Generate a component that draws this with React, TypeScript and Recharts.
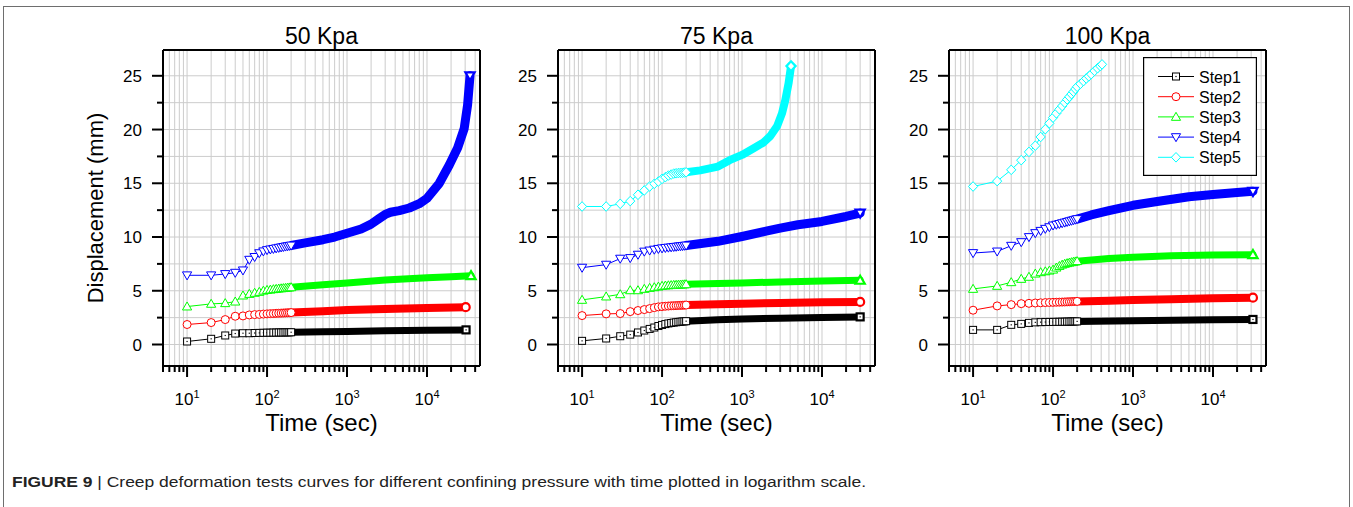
import React from 'react';
import { LineChart, Line, XAxis, YAxis, CartesianGrid, Legend, ReferenceLine } from 'recharts';

// ---------- axis ticks ----------
const X_TICKS = [5, 6, 7, 8, 9, 10, 20, 30, 40, 50, 60, 70, 80, 90, 100, 200, 300, 400, 500, 600, 700, 800, 900,
  1000, 2000, 3000, 4000, 5000, 6000, 7000, 8000, 9000, 10000, 20000, 30000, 40000];
const X_MAJOR = [10, 100, 1000, 10000];
const X_EXP = ['1', '2', '3', '4'];
const Y_TICKS = [0, 2.5, 5, 7.5, 10, 12.5, 15, 17.5, 20, 22.5, 25];
const Y_MAJOR = [0, 5, 10, 15, 20, 25];
const X_DOMAIN = [5, 46000];
const Y_DOMAIN = [-2, 27.4];

const STEP_NAMES = ['Step1', 'Step2', 'Step3', 'Step4', 'Step5'];
const COLORS = ['#000000', '#ff0000', '#00ff00', '#0000ff', '#00ffff'];
const SHAPES = ['square', 'circle', 'triUp', 'triDown', 'diamond'];
const BAND_W = [7, 8, 7, 9, 8];
const TITLES = ['50 Kpa', '75 Kpa', '100 Kpa'];

// ---------- data (time in sec, displacement in mm) ----------
const EARLY_T = [10, 20, 30, 40, 50, 60, 70, 80, 90, 100, 110, 120, 130, 140, 150, 160, 170, 180, 190, 200];
const EXT_T = [10, 20, 30, 40, 50, 60, 70, 80, 90, 100, 110, 120, 130, 140, 150, 160, 170, 180, 190, 200,
  220, 240, 260, 280, 300, 330, 360, 390, 410];

// 50 kPa
const P50_S1 = [0.28, 0.53, 0.84, 1.02, 1.05, 1.05, 1.07, 1.08, 1.09, 1.10, 1.10, 1.11, 1.11, 1.12, 1.12, 1.12, 1.13, 1.13, 1.13, 1.14];
const P50_S1_TAIL = [[200, 1.14], [500, 1.18], [1000, 1.22], [3000, 1.27], [10000, 1.32], [30800, 1.36]];
const P50_S2 = [1.86, 2.04, 2.32, 2.63, 2.66, 2.75, 2.78, 2.80, 2.83, 2.85, 2.87, 2.88, 2.90, 2.91, 2.92, 2.93, 2.94, 2.95, 2.96, 2.97];
const P50_S2_TAIL = [[200, 2.97], [500, 3.10], [1000, 3.20], [3000, 3.30], [10000, 3.40], [30500, 3.47]];
const P50_S3 = [3.53, 3.78, 3.84, 3.99, 4.55, 4.70, 4.80, 4.89, 5.00, 5.07, 5.10, 5.14, 5.17, 5.20, 5.22, 5.24, 5.26, 5.28, 5.30, 5.32];
const P50_S3_TAIL = [[200, 5.32], [500, 5.55], [1000, 5.73], [3000, 6.00], [10000, 6.20], [20000, 6.30], [35500, 6.40]];
const P50_S4 = [6.44, 6.44, 6.56, 6.68, 6.90, 7.89, 8.15, 8.50, 8.67, 8.79, 8.85, 8.90, 8.95, 9.00, 9.04, 9.08, 9.12, 9.15, 9.18, 9.21];
const P50_S4_TAIL = [[200, 9.21], [300, 9.45], [500, 9.75], [700, 10.0], [1000, 10.35], [1500, 10.75], [2000, 11.2],
  [2500, 11.7], [3000, 12.1], [3500, 12.3], [4500, 12.45], [6000, 12.7], [8000, 13.1], [10000, 13.6], [14250, 15.0],
  [19000, 16.7], [24200, 18.3], [29200, 20.1], [32200, 22.3], [34500, 25.0]];

// 75 kPa
const P75_S1 = [0.34, 0.56, 0.77, 0.92, 1.12, 1.30, 1.45, 1.58, 1.72, 1.82, 1.90, 1.96, 2.00, 2.04, 2.07, 2.10, 2.12, 2.14, 2.15, 2.17];
const P75_S1_TAIL = [[200, 2.17], [500, 2.30], [1000, 2.38], [3000, 2.45], [10000, 2.52], [30000, 2.57]];
const P75_S2 = [2.69, 2.85, 2.88, 3.06, 3.16, 3.25, 3.34, 3.43, 3.50, 3.53, 3.56, 3.58, 3.60, 3.61, 3.62, 3.63, 3.64, 3.65, 3.66, 3.67];
const P75_S2_TAIL = [[200, 3.67], [500, 3.75], [1000, 3.80], [3000, 3.86], [10000, 3.92], [30000, 3.96]];
const P75_S3 = [4.15, 4.46, 4.67, 5.04, 5.04, 5.17, 5.26, 5.32, 5.38, 5.45, 5.48, 5.50, 5.52, 5.54, 5.55, 5.56, 5.57, 5.58, 5.59, 5.60];
const P75_S3_TAIL = [[200, 5.60], [500, 5.68], [1000, 5.73], [3000, 5.82], [10000, 5.90], [30000, 5.97]];
const P75_S4 = [7.15, 7.43, 7.99, 8.05, 8.36, 8.65, 8.75, 8.83, 8.90, 8.95, 8.99, 9.02, 9.05, 9.08, 9.10, 9.13, 9.15, 9.17, 9.19, 9.21];
const P75_S4_TAIL = [[200, 9.21], [500, 9.60], [1000, 10.05], [2000, 10.55], [3000, 10.83], [5000, 11.14], [10000, 11.45],
  [20000, 11.91], [30000, 12.23]];
const P75_S5 = [12.84, 12.84, 13.09, 13.34, 13.93, 14.33, 14.70, 14.95, 15.16, 15.41, 15.57, 15.72, 15.81, 15.90, 15.93, 15.95, 15.97, 15.98, 16.00, 16.02];
const P75_S5_TAIL = [[200, 16.02], [300, 16.2], [500, 16.55], [700, 17.15], [1000, 17.64], [1400, 18.26], [1860, 18.8],
  [2260, 19.4], [2740, 20.3], [3160, 21.5], [3480, 22.75], [3820, 24.3], [4100, 25.9]];

// 100 kPa
const P100_S1 = [1.36, 1.36, 1.83, 1.92, 2.01, 2.06, 2.08, 2.09, 2.10, 2.10, 2.11, 2.11, 2.12, 2.12, 2.13, 2.13, 2.14, 2.14, 2.15, 2.15];
const P100_S1_TAIL = [[200, 2.15], [1000, 2.20], [10000, 2.30], [31600, 2.33]];
const P100_S2 = [3.19, 3.59, 3.71, 3.80, 3.83, 3.86, 3.88, 3.90, 3.91, 3.92, 3.93, 3.94, 3.95, 3.96, 3.97, 3.98, 3.99, 4.00, 4.00, 4.01];
const P100_S2_TAIL = [[200, 4.01], [500, 4.08], [1000, 4.15], [3000, 4.22], [10000, 4.30], [31600, 4.36]];
const P100_S3 = [5.17, 5.45, 5.79, 6.10, 6.29, 6.59, 6.72, 6.80, 6.87, 6.96, 7.15, 7.30, 7.42, 7.50, 7.56, 7.61, 7.65, 7.69, 7.72, 7.75];
const P100_S3_TAIL = [[200, 7.75], [500, 8.00], [1000, 8.12], [3000, 8.25], [10000, 8.33], [31600, 8.36]];
const P100_S4 = [8.51, 8.66, 9.19, 9.53, 10.00, 10.37, 10.58, 10.77, 10.92, 11.08, 11.15, 11.22, 11.29, 11.35, 11.41, 11.47, 11.52, 11.57, 11.62, 11.67];
const P100_S4_TAIL = [[200, 11.67], [300, 12.05], [500, 12.45], [1000, 12.95], [2000, 13.3], [5000, 13.75], [10000, 13.95],
  [20000, 14.15], [31600, 14.25]];
const P100_S5 = [14.70, 15.20, 16.25, 17.15, 17.92, 18.50, 19.31, 20.03, 20.58, 21.11, 21.51, 21.88, 22.19, 22.50, 22.80,
  23.05, 23.30, 23.52, 23.77, 23.98, 24.25, 24.50, 24.75, 24.95, 25.15, 25.45, 25.70, 25.90, 26.06];

// ---------- helpers ----------
type Pt = { t: number; v: number };
type Series = { early: Pt[]; tail: Pt[] | null };
const zip = (ts: number[], vs: number[]): Pt[] => vs.map((v, i) => ({ t: ts[i], v }));
const pairs = (arr: number[][]): Pt[] => arr.map(([t, v]) => ({ t, v }));

const PANELS: Series[][] = [
  [
    { early: zip(EARLY_T, P50_S1), tail: pairs(P50_S1_TAIL) },
    { early: zip(EARLY_T, P50_S2), tail: pairs(P50_S2_TAIL) },
    { early: zip(EARLY_T, P50_S3), tail: pairs(P50_S3_TAIL) },
    { early: zip(EARLY_T, P50_S4), tail: pairs(P50_S4_TAIL) },
  ],
  [
    { early: zip(EARLY_T, P75_S1), tail: pairs(P75_S1_TAIL) },
    { early: zip(EARLY_T, P75_S2), tail: pairs(P75_S2_TAIL) },
    { early: zip(EARLY_T, P75_S3), tail: pairs(P75_S3_TAIL) },
    { early: zip(EARLY_T, P75_S4), tail: pairs(P75_S4_TAIL) },
    { early: zip(EARLY_T, P75_S5), tail: pairs(P75_S5_TAIL) },
  ],
  [
    { early: zip(EARLY_T, P100_S1), tail: pairs(P100_S1_TAIL) },
    { early: zip(EARLY_T, P100_S2), tail: pairs(P100_S2_TAIL) },
    { early: zip(EARLY_T, P100_S3), tail: pairs(P100_S3_TAIL) },
    { early: zip(EARLY_T, P100_S4), tail: pairs(P100_S4_TAIL) },
    { early: zip(EXT_T, P100_S5), tail: null },
  ],
];

const FONT = '"Liberation Sans", Arial, Helvetica, sans-serif';

function Marker({ shape, cx, cy, color, sw = 1 }: { shape: string; cx?: number; cy?: number; color: string; sw?: number }) {
  if (cx == null || cy == null || isNaN(cx) || isNaN(cy)) return <g />;
  const common = { fill: '#ffffff', stroke: color, strokeWidth: sw };
  if (shape === 'square') {
    return (
      <g>
        <rect x={cx - 3.5} y={cy - 3.5} width={7} height={7} {...common} />
        <rect x={cx - 0.6} y={cy - 0.6} width={1.2} height={1.2} fill={color} />
      </g>
    );
  }
  if (shape === 'circle') return <circle cx={cx} cy={cy} r={4} {...common} />;
  let pts = '';
  if (shape === 'triUp') pts = `${cx},${cy - 4.6} ${cx + 4.6},${cy + 3.4} ${cx - 4.6},${cy + 3.4}`;
  else if (shape === 'triDown') pts = `${cx - 4.6},${cy - 3.4} ${cx + 4.6},${cy - 3.4} ${cx},${cy + 4.6}`;
  else pts = `${cx},${cy - 4.8} ${cx + 4.6},${cy} ${cx},${cy + 4.8} ${cx - 4.6},${cy}`;
  return <polygon points={pts} {...common} />;
}

const renderXTick = (p: any) => {
  const v = p.payload.value;
  const mi = X_MAJOR.indexOf(v);
  const major = mi >= 0;
  return (
    <g key={`xt${v}`}>
      <line x1={p.x} x2={p.x} y1={p.y} y2={p.y + (major ? 11 : 6)} stroke="#000" strokeWidth={2} />
      {major && (
        <text x={p.x} y={p.y + 38.5} textAnchor="middle" fontSize={17} fill="#000" fontFamily={FONT}>
          10<tspan dy={-7} fontSize={11}>{X_EXP[mi]}</tspan>
        </text>
      )}
    </g>
  );
};

const renderYTick = (p: any) => {
  const v = p.payload.value;
  const major = Y_MAJOR.indexOf(v) >= 0;
  return (
    <g key={`yt${v}`}>
      <line x1={p.x - (major ? 11 : 6)} x2={p.x} y1={p.y} y2={p.y} stroke="#000" strokeWidth={2} />
      {major && (
        <text x={p.x - 21} y={p.y + 6} textAnchor="end" fontSize={17} fill="#000" fontFamily={FONT}>
          {String(v)}
        </text>
      )}
    </g>
  );
};

const renderYTitle = () => (
  <text x={50} y={208} transform="rotate(-90 50 208)" textAnchor="middle" fontSize={22} fill="#000" fontFamily={FONT}>
    Displacement (mm)
  </text>
);

const renderLegend = () => (
  <svg width={114} height={119} style={{ display: 'block' }}>
    <rect x={0.6} y={0.6} width={112.8} height={117.8} fill="#ffffff" stroke="#000" strokeWidth={1.2} />
    {STEP_NAMES.map((name, i) => {
      const cy = 19.5 + 20.2 * i;
      return (
        <g key={name}>
          <line x1={15} x2={51} y1={cy} y2={cy} stroke={COLORS[i]} strokeWidth={1} />
          <Marker shape={SHAPES[i]} cx={33} cy={cy} color={COLORS[i]} />
          <text x={56} y={cy + 6} fontSize={16} fill="#000" fontFamily={FONT}>{name}</text>
        </g>
      );
    })}
  </svg>
);

const PLOT_W = 317;
const CH_W = 110 + PLOT_W + 20;
const CH_H = 450;
const AX = { stroke: '#000', strokeWidth: 2 };

function Panel({ plotLeft, idx }: { plotLeft: number; idx: number }) {
  const series = PANELS[idx];
  return (
    <div style={{ position: 'absolute', left: plotLeft - 110, top: 0, fontFamily: FONT }}>
      <LineChart width={CH_W} height={CH_H} margin={{ top: 50, right: 20, bottom: 14, left: 50 }}>
        <CartesianGrid stroke="#cccccc" strokeWidth={1} />
        <XAxis
          dataKey="t"
          type="number"
          scale="log"
          domain={X_DOMAIN}
          allowDataOverflow
          ticks={X_TICKS}
          interval={0}
          tickSize={0}
          tickMargin={0}
          tickLine={false}
          axisLine={AX}
          tick={renderXTick}
          height={70}
          label={{ value: 'Time (sec)', position: 'insideBottom', offset: 5, fontSize: 24, fill: '#000' }}
        />
        <YAxis
          type="number"
          domain={Y_DOMAIN}
          allowDataOverflow
          ticks={Y_TICKS}
          interval={0}
          tickSize={0}
          tickMargin={0}
          tickLine={false}
          axisLine={AX}
          tick={renderYTick}
          width={60}
          label={idx === 0 ? renderYTitle : undefined}
        />
        <ReferenceLine
          y={Y_DOMAIN[1]}
          stroke="#000"
          strokeWidth={2}
          ifOverflow="visible"
          label={{ value: TITLES[idx], position: 'top', offset: 6, fontSize: 23, fill: '#000' }}
        />
        <ReferenceLine x={X_DOMAIN[1]} stroke="#000" strokeWidth={2} ifOverflow="visible" />
        {series.map((s, i) =>
          s.tail ? (
            <Line
              key={`band${i}`}
              data={s.tail}
              dataKey="v"
              type="linear"
              stroke={COLORS[i]}
              strokeWidth={BAND_W[i]}
              strokeLinecap="round"
              strokeLinejoin="round"
              activeDot={false}
              legendType="none"
              isAnimationActive={false}
              dot={(p: any) =>
                p.index === s.tail!.length - 1 ? (
                  <Marker key={`e${i}`} shape={SHAPES[i]} cx={p.cx} cy={p.cy} color={COLORS[i]} sw={2.2} />
                ) : (
                  <g key={`n${i}-${p.index}`} />
                )
              }
            />
          ) : null
        )}
        {series.map((s, i) => (
          <Line
            key={`early${i}`}
            data={s.early}
            dataKey="v"
            type="linear"
            stroke={COLORS[i]}
            strokeWidth={1}
            activeDot={false}
            legendType="none"
            isAnimationActive={false}
            dot={(p: any) => (
              <Marker key={`m${i}-${p.index}`} shape={SHAPES[i]} cx={p.cx} cy={p.cy} color={COLORS[i]} />
            )}
          />
        ))}
        {idx === 2 && (
          <Legend
            layout="horizontal"
            verticalAlign="middle"
            align="center"
            wrapperStyle={{ left: 304, top: 57, width: 114, height: 119, margin: 0, padding: 0 }}
            content={renderLegend}
          />
        )}
      </LineChart>
    </div>
  );
}

export default function App() {
  return (
    <div
      style={{
        position: 'absolute',
        left: 0,
        top: 0,
        width: 1353,
        height: 507,
        overflow: 'hidden',
        background: '#ffffff',
        fontFamily: FONT,
      }}
    >
      <div
        style={{
          position: 'absolute',
          left: 3,
          top: 6,
          width: 1347,
          height: 510,
          border: '1px solid #6e6e6e',
          boxSizing: 'border-box',
        }}
      />
      <Panel plotLeft={163} idx={0} />
      <Panel plotLeft={558} idx={1} />
      <Panel plotLeft={949} idx={2} />
      <svg style={{ position: 'absolute', left: 0, top: 468 }} width={1353} height={30}>
        <text x={12} y={19} fontSize={14} fill="#222" fontFamily={FONT} textLength={854} lengthAdjust="spacingAndGlyphs">
          <tspan fontWeight="bold">FIGURE 9</tspan>
          <tspan> | Creep deformation tests curves for different confining pressure with time plotted in logarithm scale.</tspan>
        </text>
      </svg>
    </div>
  );
}
